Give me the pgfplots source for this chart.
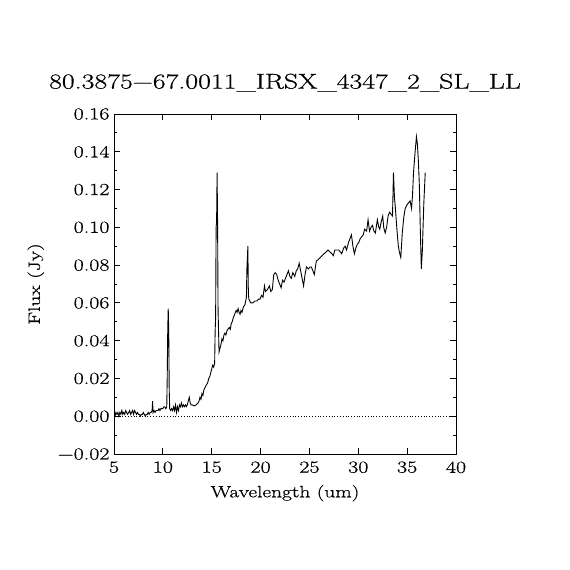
\documentclass[border=0pt]{standalone}
\usepackage{fontspec}
\setmainfont{Latin Modern Roman}[FakeStretch=1.3, FakeBold=0.6]
\usepackage{pgfplots}
\pgfplotsset{compat=1.18}
\begin{document}
\begin{tikzpicture}[x=1bp,y=1bp]
\path[use as bounding box,fill=white] (0,0) rectangle (570,570);
\begin{axis}[
  at={(114bp,116bp)}, anchor=south west,
  width=342bp, height=340bp, scale only axis,
  xmin=5, xmax=40, ymin=-0.02, ymax=0.16,
  xtick={5,10,15,20,25,30,35,40},
  xticklabels={5,10,15,20,25,30,35,40},
  ytick={-0.02,0,0.02,0.04,0.06,0.08,0.10,0.12,0.14,0.16},
  yticklabels={−0.02,0.00,0.02,0.04,0.06,0.08,0.10,0.12,0.14,0.16},
  minor y tick num=1,
  tick align=inside, tick pos=both, ticklabel pos=left,
  major tick length=6bp, minor tick length=3bp,
  every tick/.style={black, line width=0.8pt},
  axis line style={line width=0.8pt},
  scaled y ticks=false,
  tick label style={font=\fontsize{17}{20}\selectfont},
  xticklabel style={yshift=-4bp},
  yticklabel style={xshift=-1bp},
  xlabel={Wavelength (um)}, ylabel={Flux (Jy)},
  label style={font=\fontsize{16.5}{19}\selectfont},
  xlabel style={yshift=-5bp},
  ylabel style={yshift=7bp},
  title={80.3875−67.0011\_IRSX\_4347\_2\_SL\_LL},
  title style={font=\fontsize{21.5}{24}\selectfont, yshift=13bp},
  clip=true,
]
\addplot[black, dotted, line width=0.8pt] coordinates {(5,0) (40,0)};
\addplot[black, line width=0.9pt] coordinates {
(5.00,-0.002) (5.05,0.002) (5.1,0.000) (5.15,0.001) (5.2,0.002) (5.3,0.001) (5.4,0.002) (5.5,0.000)
(5.6,0.002) (5.7,0.001) (5.8,0.003) (5.9,0.001) (6.0,0.002) (6.1,0.001) (6.2,0.003) (6.3,0.002)
(6.4,0.001) (6.5,0.002) (6.6,0.003) (6.7,0.001) (6.8,0.002) (6.9,0.003) (7.0,0.001) (7.1,0.003)
(7.2,0.002) (7.3,0.001) (7.4,0.002) (7.5,0.001) (7.6,0.001) (7.7,0.000) (7.8,0.001) (7.9,0.001)
(8.0,0.002) (8.1,0.001) (8.2,0.000) (8.3,0.001) (8.4,0.001) (8.5,0.002) (8.6,0.001) (8.7,0.002)
(8.8,0.002) (8.9,0.003) (8.95,0.008) (9.0,0.002) (9.1,0.003) (9.2,0.002) (9.3,0.003) (9.4,0.003)
(9.5,0.003) (9.6,0.004) (9.7,0.003) (9.8,0.004) (9.9,0.004) (10.0,0.004) (10.1,0.005) (10.2,0.005)
(10.3,0.004) (10.4,0.005) (10.45,0.022) (10.5,0.046) (10.55,0.057) (10.6,0.046) (10.65,0.014) (10.7,0.004)
(10.8,0.003) (10.9,0.004) (11.0,0.003) (11.1,0.005) (11.2,0.003) (11.3,0.006) (11.4,0.002) (11.5,0.005)
(11.6,0.003) (11.7,0.006) (11.8,0.005) (11.9,0.007) (12.0,0.005) (12.1,0.006) (12.2,0.005) (12.3,0.006)
(12.4,0.005) (12.5,0.006) (12.6,0.008) (12.7,0.010) (12.8,0.007) (12.9,0.006) (13.0,0.006) (13.2,0.0055)
(13.4,0.006) (13.6,0.007) (13.7,0.008) (13.8,0.010) (13.9,0.009) (14.0,0.012) (14.1,0.011) (14.2,0.014)
(14.3,0.015) (14.4,0.016) (14.5,0.017) (14.6,0.018) (14.7,0.020) (14.8,0.021) (14.9,0.023) (15.0,0.025)
(15.1,0.027) (15.2,0.026) (15.3,0.028) (15.35,0.045) (15.4,0.052) (15.45,0.100) (15.5,0.103) (15.55,0.129)
(15.6,0.103) (15.65,0.056) (15.75,0.034) (15.85,0.036) (15.95,0.038) (16.05,0.041) (16.15,0.040) (16.25,0.043)
(16.35,0.044) (16.45,0.043) (16.55,0.045) (16.65,0.046) (16.8,0.047) (16.9,0.046) (17.0,0.049) (17.1,0.050)
(17.2,0.052) (17.35,0.054) (17.5,0.056) (17.6,0.055) (17.7,0.057) (17.8,0.055) (17.9,0.054) (18.0,0.056)
(18.1,0.055) (18.25,0.058) (18.4,0.059) (18.55,0.063) (18.6,0.078) (18.7,0.090) (18.75,0.065) (18.8,0.062)
(18.9,0.061) (19.0,0.060) (19.2,0.060) (19.4,0.061) (19.6,0.061) (19.8,0.062) (19.95,0.062) (20.1,0.064)
(20.25,0.063) (20.4,0.069) (20.5,0.066) (20.7,0.067) (20.9,0.069) (21.05,0.066) (21.2,0.067) (21.35,0.075)
(21.5,0.076) (21.65,0.075) (21.8,0.072) (21.95,0.070) (22.1,0.068) (22.25,0.072) (22.4,0.071) (22.55,0.073)
(22.7,0.075) (22.85,0.077) (23.0,0.074) (23.15,0.073) (23.3,0.076) (23.5,0.074) (23.65,0.077) (23.8,0.078)
(23.95,0.081) (24.1,0.077) (24.25,0.073) (24.4,0.069) (24.55,0.075) (24.7,0.079) (24.9,0.078) (25.05,0.079)
(25.2,0.079) (25.35,0.077) (25.5,0.075) (25.7,0.082) (25.9,0.083) (26.1,0.084) (26.3,0.085) (26.5,0.086)
(26.7,0.087) (26.9,0.088) (27.1,0.087) (27.3,0.086) (27.45,0.085) (27.6,0.088) (27.8,0.088) (28.0,0.088)
(28.15,0.087) (28.3,0.086) (28.5,0.089) (28.65,0.090) (28.8,0.088) (29.0,0.092) (29.15,0.094) (29.3,0.096)
(29.45,0.090) (29.6,0.086) (29.75,0.089) (29.9,0.091) (30.05,0.092) (30.2,0.094) (30.35,0.095) (30.5,0.096)
(30.65,0.099) (30.85,0.098) (31.0,0.104) (31.15,0.098) (31.3,0.100) (31.45,0.101) (31.6,0.098) (31.75,0.097)
(31.95,0.104) (32.1,0.100) (32.2,0.099) (32.35,0.103) (32.5,0.106) (32.6,0.100) (32.75,0.097) (32.9,0.100)
(33.05,0.106) (33.2,0.108) (33.35,0.107) (33.5,0.106) (33.6,0.129) (33.7,0.116) (33.8,0.110) (33.95,0.099)
(34.1,0.090) (34.2,0.087) (34.35,0.084) (34.5,0.097) (34.65,0.105) (34.8,0.110) (35.0,0.112) (35.15,0.113)
(35.3,0.114) (35.45,0.110) (35.55,0.117) (35.65,0.129) (35.8,0.139) (35.95,0.148) (36.05,0.144) (36.15,0.135)
(36.25,0.122) (36.35,0.098) (36.45,0.078) (36.55,0.087) (36.7,0.112) (36.85,0.129)
};
\end{axis}
\end{tikzpicture}
\end{document}
